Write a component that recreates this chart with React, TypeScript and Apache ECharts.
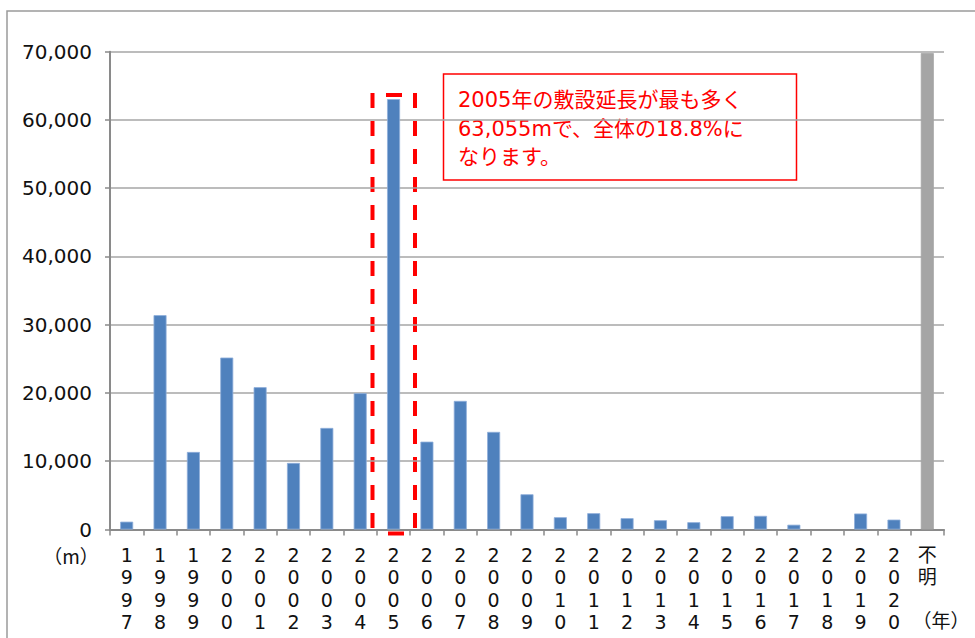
import React, { useEffect, useRef } from 'react';
import * as echarts from 'echarts';

const categories = ['1997', '1998', '1999', '2000', '2001', '2002', '2003', '2004', '2005', '2006', '2007', '2008', '2009', '2010', '2011', '2012', '2013', '2014', '2015', '2016', '2017', '2018', '2019', '2020', '不明'];
const lengths = [1150, 31400, 11360, 25190, 20850, 9750, 14880, 19970, 63055, 12870, 18840, 14300, 5160, 1800, 2390, 1660, 1360, 1070, 1950, 2000, 700, 0, 2340, 1450, 69800];
const unknownCategory = '不明';
const noteLines = ['2005年の敷設延長が最も多く', '63,055mで、全体の18.8%に', 'なります。'];
const yUnit = '（m）';
const xUnit = '（年）';

const FONT = '"DejaVu Sans", "Noto Sans CJK JP", sans-serif';
const CJK = '"Noto Sans CJK JP", sans-serif';

export default function App() {
  const ref = useRef<HTMLDivElement>(null);
  useEffect(() => {
    if (!ref.current) return;
    const chart = echarts.init(ref.current, undefined, { renderer: 'svg' });
    const red = '#FF0000';
    chart.setOption({
      animation: false,
      backgroundColor: '#ffffff',
      grid: { left: 110, right: 31, top: 51.7, bottom: 108.5, containLabel: false },
      xAxis: {
        type: 'category',
        data: categories,
        boundaryGap: true,
        axisLine: { lineStyle: { color: '#8a8a8a', width: 2 } },
        axisTick: { show: true, length: 6, lineStyle: { color: '#8a8a8a', width: 1.5 } },
        axisLabel: {
          interval: 0,
          color: '#111',
          fontSize: 19,
          fontFamily: FONT,
          lineHeight: 22.5,
          margin: 14,
          formatter: (v: string) => v.split('').join('\n'),
        },
      },
      yAxis: {
        type: 'value',
        min: 0,
        max: 70000,
        interval: 10000,
        axisLine: { show: true, lineStyle: { color: '#8a8a8a', width: 2 } },
        axisTick: { show: true, length: 5, lineStyle: { color: '#8a8a8a', width: 1.5 } },
        splitLine: { lineStyle: { color: '#a6a6a6', width: 1.5 } },
        axisLabel: {
          color: '#111',
          fontSize: 20,
          fontFamily: FONT,
          margin: 18,
          formatter: (v: number) => v.toLocaleString('en-US'),
        },
      },
      series: [
        {
          type: 'bar',
          barWidth: 13,
          data: categories.map((c, i) => ({
            value: lengths[i],
            itemStyle: {
              color: c === unknownCategory ? '#A5A5A5' : '#4F81BD',
              borderColor: c === unknownCategory ? '#A5A5A5' : '#8FAEDA',
              borderWidth: lengths[i] > 0 ? 0.8 : 0,
            },
          })),
        },
      ],
      graphic: [
        {
          type: 'rect',
          shape: { x: 7, y: 11, width: 1000, height: 700 },
          style: { fill: 'none', stroke: '#9a9a9a', lineWidth: 1.5 },
          silent: true,
        },
        {
          type: 'text',
          x: 71,
          y: 555,
          style: { text: yUnit, font: `19px ${CJK}`, fill: '#111', align: 'center', verticalAlign: 'middle' },
        },
        {
          type: 'text',
          x: 941,
          y: 619,
          style: { text: xUnit, font: `19px ${CJK}`, fill: '#111', align: 'center', verticalAlign: 'middle' },
        },
        // dashed highlight around 2005
        {
          type: 'line',
          shape: { x1: 372.5, y1: 93, x2: 372.5, y2: 535 },
          style: { stroke: red, lineWidth: 4, lineDash: [15, 13] },
        },
        {
          type: 'line',
          shape: { x1: 415, y1: 93, x2: 415, y2: 535 },
          style: { stroke: red, lineWidth: 4, lineDash: [15, 13] },
        },
        {
          type: 'line',
          shape: { x1: 386, y1: 95, x2: 402, y2: 95 },
          style: { stroke: red, lineWidth: 4 },
        },
        {
          type: 'line',
          shape: { x1: 388, y1: 533.5, x2: 404, y2: 533.5 },
          style: { stroke: red, lineWidth: 4 },
        },
        {
          type: 'rect',
          shape: { x: 443.5, y: 74, width: 353, height: 106 },
          style: { fill: '#ffffff', stroke: red, lineWidth: 1.5 },
        },
        ...noteLines.map((t, i) => ({
          type: 'text',
          x: 458,
          y: 100 + i * 28.5,
          style: { text: t, font: `21px ${FONT}`, fill: red, align: 'left', verticalAlign: 'middle' },
        })),
      ],
    });
    return () => chart.dispose();
  }, []);
  return <div ref={ref} style={{ position: 'fixed', left: 0, top: 0, width: 975, height: 638 }} />;
}
